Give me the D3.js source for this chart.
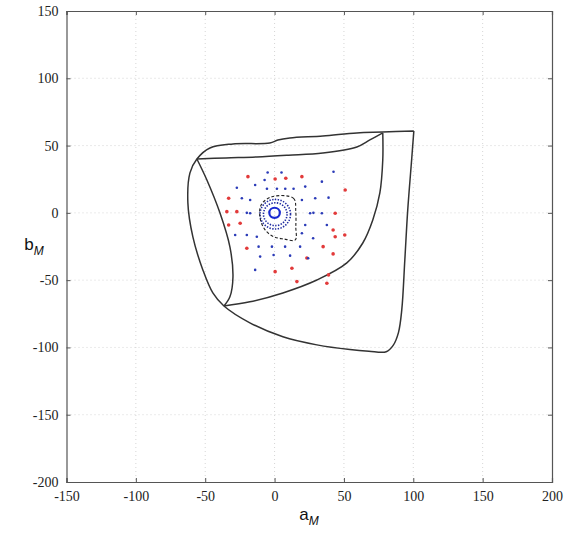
<!DOCTYPE html>
<html>
<head>
<meta charset="utf-8">
<script src="https://cdn.jsdelivr.net/npm/d3@7"></script>
<style>
  html, body { margin: 0; padding: 0; background: #fff; }
  svg { display: block; }
</style>
</head>
<body>
<svg id="chart" width="571" height="535"></svg>
<script>
// ---- data (a_M, b_M) ----
const xTicks = [-150, -100, -50, 0, 50, 100, 150, 200];
const yTicks = [-200, -150, -100, -50, 0, 50, 100, 150];

// gamut boundary: outer contour (top-right corner -> down right side -> bottom -> up left side -> top)
const outerRight = [[100.4,60.9],[98.8,39.3],[96,2.2],[93.9,-35],[91.7,-72.1],[89.3,-89],[85.5,-98.5],[80.5,-103.2]];
const bottomEdge = [[68,-102.8],[54.3,-101.6],[30.5,-98.1],[6,-92.1],[-17.8,-81.7],[-36.5,-69.2]];
const leftOuter  = [[-44.5,-59.5],[-51.7,-42.4],[-58.9,-17.9],[-62.5,7.4],[-61,29.7],[-56,40]];
const outerTop   = [[-46.6,48.2],[-30,51.2],[-3.4,51.9],[2.4,54.1],[11,55.6],[34.8,57.1],[59.3,59.4],[78,60],[100.4,60.9]];
// inner curves
const innerTop   = [[-56,40],[-35,40.8],[-12.8,41.5],[10,42.8],[34.8,44.5],[59.3,49],[68.7,54.2],[78,59.4]];
const innerRight = [[78,59.4],[78,39.3],[75.9,14.8],[70.8,-5.3],[63.6,-22.4],[52.1,-37.2],[30.5,-49.9],[6,-59.5],[-17.8,-66.1],[-36.5,-69.2]];
const leftInner  = [[-56,40],[-48.8,24.4],[-39.4,0],[-32.2,-25.3],[-30,-47.6],[-32.2,-62.4],[-36.5,-69.2]];

// black dashed loop
const dashedLoop = [[-1.9,12],[13.7,10.8],[15.3,0.9],[15.3,-10.3],[14.9,-20.1],[6.5,-19.4],[-0.7,-17.7],[-6.8,-12.7],[-10.4,-4],[-9.7,5.9]];

// red samples
const redA = [-19.2, 0.4, 8.1, 19.7, 50.9, -33.1, -34.4, -27.2, -33.1, -24.8, 43.7, 43.7, 50.6, -20, 42.2, 35, 42.2, 23.3, 0.4, 12.5, 38.9, 16.1, 37.7];
const redB = [26.9, 25.2, 25.7, 26.9, 17.0, 10.8, 0.9, 0.9, -9.0, -7.7, -0.3, -17.7, -16.4, -26.3, -12.7, -25.1, -30.5, -33.5, -43.7, -41.2, -46.1, -51.1, -52.3];

// blue samples
const blueA = [42.5, 34.1, 22.1, -27.2, -14, -7.2, -5.5, 1.7, 7.7, 13.7, -23.6, -17.6, 29.3, 38.9, 19.7, -17.6, 25.6, 34.1, 22.1, 37.7, -28.4, -20, -12.8, 19.7, -11.5, -1.9, 7.6, 18.4, -10.4, -0.7, 11.2, -14, 27.8, 24.2, -20, 28, -5, 5];
const blueB = [30.6, 23.2, 19.5, 18.7, 20.7, 24.4, 17.9, 17.9, 17.9, 17.9, 10.8, 9.6, 10.8, 11.3, 9.6, -0.3, -0.3, -0.3, -9.0, -9.0, -16.4, -16.4, -17.7, -15.2, -25.1, -25.1, -25.1, -25.1, -32.5, -31.3, -31.8, -42.4, -18.9, -33.7, 0, 0, 30, 30];

// rings: [centerA, centerB, radius]
const solidRing  = [0, 0, 3.8];
const dottedRings = [[0.5, -1, 8.5], [0.5, -1, 11]];

// ---- drawing ----
const svg = d3.select("#chart");
const x = d3.scaleLinear().domain([-150, 200]).range([66.5, 552]);
const y = d3.scaleLinear().domain([-200, 150]).range([482, 11]);

const L = 66.5, R = 552, T = 11, B = 482;

// grid
const grid = svg.append("g");
grid.selectAll("line.vx").data(xTicks.slice(1, -1)).join("line")
  .attr("x1", d => x(d)).attr("x2", d => x(d)).attr("y1", T).attr("y2", B)
  .attr("stroke", "#cccccc").attr("stroke-width", 0.8).attr("stroke-dasharray", "1,3");
grid.selectAll("line.hy").data(yTicks.slice(1, -1)).join("line")
  .attr("y1", d => y(d)).attr("y2", d => y(d)).attr("x1", L).attr("x2", R)
  .attr("stroke", "#cccccc").attr("stroke-width", 0.8).attr("stroke-dasharray", "1,3");

// axes via d3 (inward ticks, labels)
const fontTick = "'Liberation Serif', 'Times New Roman', serif";
const axB = svg.append("g").attr("transform", `translate(0,${B})`)
  .call(d3.axisBottom(x).tickValues(xTicks).tickSize(-4).tickPadding(9).tickFormat(d3.format("d")));
const axT = svg.append("g").attr("transform", `translate(0,${T})`)
  .call(d3.axisTop(x).tickValues(xTicks).tickSize(-4).tickFormat(""));
const axLft = svg.append("g").attr("transform", `translate(${L},0)`)
  .call(d3.axisLeft(y).tickValues(yTicks).tickSize(-4).tickPadding(8).tickFormat(d3.format("d")));
const axRt = svg.append("g").attr("transform", `translate(${R},0)`)
  .call(d3.axisRight(y).tickValues(yTicks).tickSize(-4).tickFormat(""));
[axB, axT, axLft, axRt].forEach(g => {
  g.select(".domain").attr("stroke", "#555").attr("stroke-width", 1.2);
  g.selectAll(".tick line").attr("stroke", "#555");
  g.selectAll(".tick text").attr("font-family", fontTick).attr("font-size", 14).attr("fill", "#222");
});
axB.selectAll(".tick text").text(d => d < 0 ? "-" + Math.abs(d) : d);
axLft.selectAll(".tick text").text(d => d < 0 ? "-" + Math.abs(d) : d);

// clip
svg.append("clipPath").attr("id", "clip").append("rect")
  .attr("x", L).attr("y", T).attr("width", R - L).attr("height", B - T);
const plot = svg.append("g").attr("clip-path", "url(#clip)");

// gamut curves
const line = d3.line().x(d => x(d[0])).y(d => y(d[1])).curve(d3.curveCatmullRom.alpha(0.5));
const outerContour = [...outerRight, ...bottomEdge, ...leftOuter, ...outerTop];
[outerContour, innerTop, innerRight, leftInner].forEach(c => {
  plot.append("path").attr("d", line(c)).attr("fill", "none")
    .attr("stroke", "#333").attr("stroke-width", 1.5).attr("stroke-linejoin", "round");
});

// red points
plot.selectAll("circle.red").data(redA.map((a, i) => [a, redB[i]])).join("circle")
  .attr("class", "red").attr("cx", d => x(d[0])).attr("cy", d => y(d[1])).attr("r", 1.8)
  .attr("fill", "#e23a3a");

// blue points
plot.selectAll("circle.blue").data(blueA.map((a, i) => [a, blueB[i]])).join("circle")
  .attr("class", "blue").attr("cx", d => x(d[0])).attr("cy", d => y(d[1])).attr("r", 1.3)
  .attr("fill", "#2b3bb8");

// dotted rings
dottedRings.forEach(r => {
  plot.append("ellipse").attr("cx", x(r[0])).attr("cy", y(r[1]))
    .attr("rx", x(r[2]) - x(0)).attr("ry", y(0) - y(r[2]))
    .attr("fill", "none").attr("stroke", "#1e2aa0").attr("stroke-width", 1.6)
    .attr("stroke-dasharray", "1.4,1.4");
});

// dashed black loop
plot.append("path").attr("d", d3.line().x(d => x(d[0])).y(d => y(d[1])).curve(d3.curveCatmullRomClosed)(dashedLoop))
  .attr("fill", "none").attr("stroke", "#222").attr("stroke-width", 1.1).attr("stroke-dasharray", "3,2");

// solid ring
plot.append("ellipse").attr("cx", x(solidRing[0])).attr("cy", y(solidRing[1]))
  .attr("rx", x(solidRing[2]) - x(0)).attr("ry", y(0) - y(solidRing[2]))
  .attr("fill", "none").attr("stroke", "#1a2ad0").attr("stroke-width", 2.2);

// axis labels
const xl = svg.append("text").attr("x", 309).attr("y", 520).attr("text-anchor", "middle")
  .attr("font-family", "'Liberation Sans', Arial, sans-serif").attr("font-size", 17).attr("fill", "#111");
xl.append("tspan").text("a");
xl.append("tspan").attr("font-size", 12).attr("font-style", "italic").attr("dy", 5).text("M");

const yl = svg.append("text").attr("x", 34).attr("y", 250).attr("text-anchor", "middle")
  .attr("font-family", "'Liberation Sans', Arial, sans-serif").attr("font-size", 17).attr("fill", "#111");
yl.append("tspan").text("b");
yl.append("tspan").attr("font-size", 12).attr("font-style", "italic").attr("dy", 5).text("M");
</script>
</body>
</html>
